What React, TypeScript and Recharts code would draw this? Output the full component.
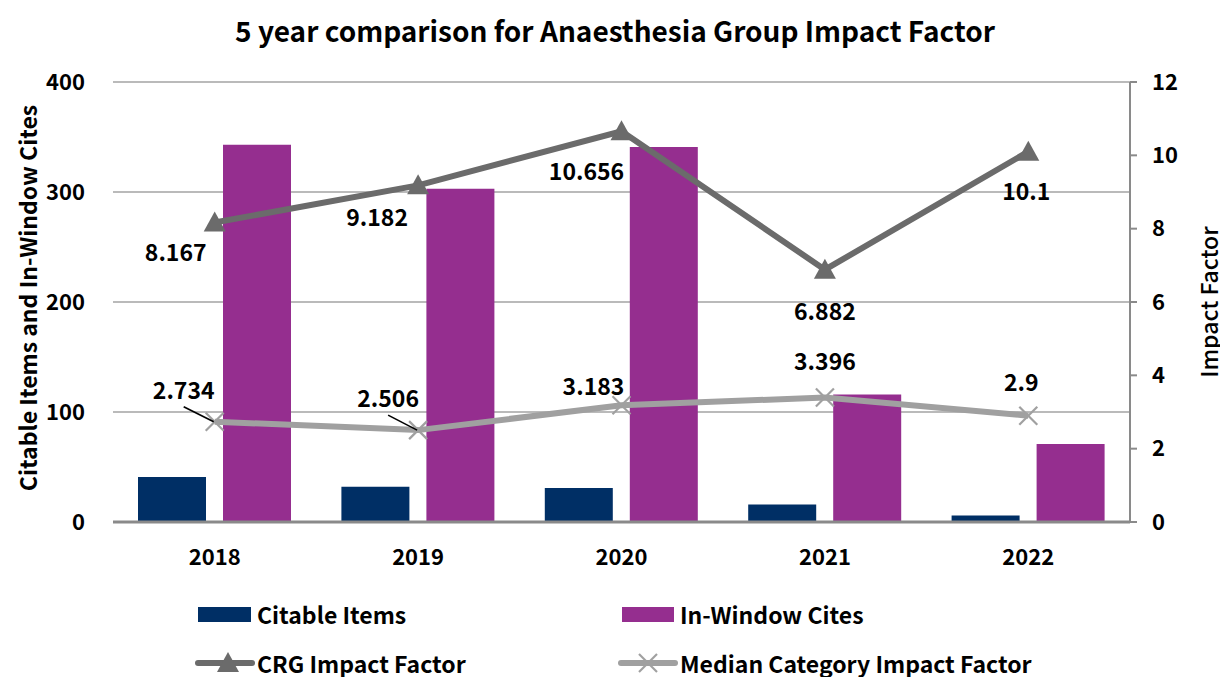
import React from "react";
import {
  Bar,
  CartesianGrid,
  ComposedChart,
  LabelList,
  Line,
  XAxis,
  YAxis,
} from "recharts";

const years = ["2018", "2019", "2020", "2021", "2022"];
const citableItems = [41, 32, 31, 16, 6];
const inWindowCites = [343, 303, 341, 116, 71];
const crgImpactFactor = [8.167, 9.182, 10.656, 6.882, 10.1];
const medianImpactFactor = [2.734, 2.506, 3.183, 3.396, 2.9];
const leftTicks = [0, 100, 200, 300, 400];
const rightTicks = [0, 2, 4, 6, 8, 10, 12];

const data = years.map((year, i) => ({
  year,
  citable: citableItems[i],
  cites: inWindowCites[i],
  crg: crgImpactFactor[i],
  median: medianImpactFactor[i],
}));

// label placement relative to each point (Excel moved these by hand)
const crgLabelOffsets = [
  [-39, 28],
  [-41, 31],
  [-35, 39],
  [0, 40],
  [-2, 38],
];
const medianLabelOffsets = [
  [-31, -33],
  [-30, -33],
  [-28, -20],
  [0, -37],
  [-7, -35],
];
const medianLeaders = [true, true, false, false, false];

const FONT = "'Noto Sans CJK JP', 'Noto Sans', sans-serif";
const NAVY = "#002f65";
const PURPLE = "#952e8f";
const DARK_GREY = "#6b6b6b";
const LIGHT_GREY = "#a0a0a0";
const GRID = "#a3a3a3";

const makeLabel =
  (offsets: number[][], leaders?: boolean[]) => (props: any) => {
    const { x, y, value, index } = props;
    const [dx, dy] = offsets[index] || [0, 0];
    return (
      <g>
        {leaders && leaders[index] ? (
          <line
            x1={x + dx}
            y1={y + dy + 18}
            x2={x - 1}
            y2={y}
            stroke="#000"
            strokeWidth={1.6}
          />
        ) : null}
        <text
          x={x + dx}
          y={y + dy}
          textAnchor="middle"
          dominantBaseline="central"
          fontSize={23}
          fontWeight={700}
          fontFamily={FONT}
          fill="#000"
        >
          {value}
        </text>
      </g>
    );
  };

const TriangleDot = (props: any) => {
  const { cx, cy } = props;
  if (cx == null || cy == null) return null;
  return (
    <path
      d={`M${cx},${cy - 11} L${cx + 11},${cy + 9} L${cx - 11},${cy + 9} Z`}
      fill={DARK_GREY}
    />
  );
};

const CrossDot = (props: any) => {
  const { cx, cy } = props;
  if (cx == null || cy == null) return null;
  return (
    <g stroke={LIGHT_GREY} strokeWidth={2.2}>
      <line x1={cx - 9} y1={cy - 9} x2={cx + 9} y2={cy + 9} />
      <line x1={cx - 9} y1={cy + 9} x2={cx + 9} y2={cy - 9} />
    </g>
  );
};

const tickStyle = {
  fontSize: 22,
  fontWeight: 700,
  fontFamily: FONT,
  fill: "#000",
};

const legendText: React.CSSProperties = {
  position: "absolute",
  fontSize: 23,
  fontWeight: 700,
  lineHeight: "26px",
  color: "#000",
  whiteSpace: "nowrap",
};

export default function App() {
  return (
    <div
      style={{
        position: "absolute",
        left: 0,
        top: 0,
        width: 1220,
        height: 677,
        fontFamily: FONT,
        background: "#fff",
      }}
    >
      <div
        style={{
          position: "absolute",
          left: 0,
          top: 10,
          width: 1230,
          textAlign: "center",
          fontSize: 28,
          fontWeight: 700,
          lineHeight: "40px",
        }}
      >
        5 year comparison for Anaesthesia Group Impact Factor
      </div>

      <div
        style={{
          position: "absolute",
          left: 27,
          top: 298,
          transform: "translate(-50%, -50%) rotate(-90deg)",
          fontSize: 23,
          fontWeight: 700,
          whiteSpace: "nowrap",
        }}
      >
        Citable Items and In-Window Cites
      </div>

      <div style={{ position: "absolute", left: 0, top: 0 }}>
        <ComposedChart
          width={1220}
          height={677}
          data={data}
          margin={{ top: 82, right: 0, bottom: 115, left: 0 }}
          barGap={17}
        >
          <CartesianGrid
            yAxisId="left"
            vertical={false}
            stroke={GRID}
            strokeWidth={1.5}
          />
          <XAxis
            dataKey="year"
            height={40}
            axisLine={{ stroke: "#8a8a8a", strokeWidth: 3 }}
            tickLine={false}
            tickSize={0}
            tickMargin={27}
            tick={tickStyle}
          />
          <YAxis
            yAxisId="left"
            width={113}
            domain={[0, 400]}
            ticks={leftTicks}
            axisLine={false}
            tickLine={false}
            tickSize={0}
            tickMargin={28}
            tick={tickStyle}
          />
          <YAxis
            yAxisId="right"
            orientation="right"
            width={90}
            domain={[0, 12]}
            ticks={rightTicks}
            axisLine={{ stroke: "#8a8a8a", strokeWidth: 2 }}
            tickLine={{ stroke: "#8a8a8a", strokeWidth: 2 }}
            tickSize={7}
            tickMargin={15}
            tick={tickStyle}
          />
          <Bar
            yAxisId="left"
            dataKey="citable"
            name="Citable Items"
            fill={NAVY}
            barSize={68}
            isAnimationActive={false}
          />
          <Bar
            yAxisId="left"
            dataKey="cites"
            name="In-Window Cites"
            fill={PURPLE}
            barSize={68}
            isAnimationActive={false}
          />
          <Line
            yAxisId="right"
            dataKey="crg"
            name="CRG Impact Factor"
            stroke={DARK_GREY}
            strokeWidth={6}
            dot={<TriangleDot />}
            activeDot={false}
            isAnimationActive={false}
          >
            <LabelList dataKey="crg" content={makeLabel(crgLabelOffsets)} />
          </Line>
          <Line
            yAxisId="right"
            dataKey="median"
            name="Median Category Impact Factor"
            stroke={LIGHT_GREY}
            strokeWidth={6}
            dot={<CrossDot />}
            activeDot={false}
            isAnimationActive={false}
          >
            <LabelList
              dataKey="median"
              content={makeLabel(medianLabelOffsets, medianLeaders)}
            />
          </Line>
        </ComposedChart>
      </div>

      <svg
        style={{ position: "absolute", left: 1190, top: 200 }}
        width={30}
        height={200}
      >
        <text
          x={18}
          y={102}
          transform="rotate(-90 18 102)"
          textAnchor="middle"
          dominantBaseline="central"
          fontSize={23}
          fontWeight={500}
          fontFamily={FONT}
          fill="#000"
        >
          Impact Factor
        </text>
      </svg>

      {/* legend */}
      <div
        style={{
          position: "absolute",
          left: 198,
          top: 607,
          width: 53,
          height: 15,
          background: NAVY,
        }}
      />
      <div style={{ ...legendText, left: 257, top: 601 }}>Citable Items</div>
      <div
        style={{
          position: "absolute",
          left: 622,
          top: 607,
          width: 52,
          height: 15,
          background: PURPLE,
        }}
      />
      <div style={{ ...legendText, left: 680, top: 601 }}>In-Window Cites</div>

      <svg
        style={{ position: "absolute", left: 190, top: 648 }}
        width={70}
        height={29}
      >
        <line
          x1={8}
          y1={15}
          x2={62}
          y2={15}
          stroke={DARK_GREY}
          strokeWidth={6}
          strokeLinecap="round"
        />
        <TriangleDot cx={38} cy={15} />
      </svg>
      <div style={{ ...legendText, left: 257, top: 650 }}>CRG Impact Factor</div>
      <svg
        style={{ position: "absolute", left: 613, top: 648 }}
        width={70}
        height={29}
      >
        <line
          x1={8}
          y1={15}
          x2={62}
          y2={15}
          stroke={LIGHT_GREY}
          strokeWidth={6}
          strokeLinecap="round"
        />
        <CrossDot cx={35} cy={15} />
      </svg>
      <div style={{ ...legendText, left: 680, top: 650 }}>
        Median Category Impact Factor
      </div>
    </div>
  );
}
